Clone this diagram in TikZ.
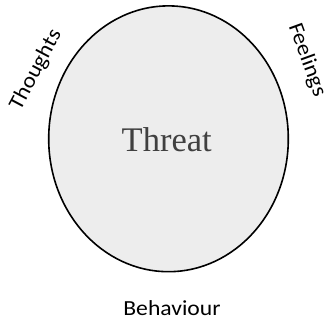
\documentclass[tikz,border=0pt]{standalone}
\usepackage{fontspec}
\setmainfont{Liberation Serif}
\newfontfamily\lblfont{Carlito}
\definecolor{fillgray}{HTML}{EDEDED}
\definecolor{txtgray}{HTML}{404040}
\begin{document}
\begin{tikzpicture}[x=1pt,y=1pt,
  lbl/.style={font=\lblfont\fontsize{21.5}{24}\selectfont, inner sep=0pt}]
\useasboundingbox (0,0) rectangle (327,320);
\path[fill=white] (0,0) rectangle (327,320);
\draw[draw=black, line width=1.6pt, fill=fillgray] (168.5,181.2) ellipse [x radius=119.8, y radius=132.9];
\node[anchor=base, inner sep=0pt, text=txtgray, font=\fontsize{34.5}{40}\selectfont] (threat) at (166.7,168.3) {Threat};
\node[lbl, rotate=62] (thoughts) at (36,250) {\scalebox{1.08}[1]{Thoughts}};
\node[lbl, rotate=-70] (feelings) at (307,260) {\scalebox{1.08}[1]{Feelings}};
\node[lbl, anchor=base] (behaviour) at (172,4) {\scalebox{1.1}[1]{Behaviour}};
\end{tikzpicture}
\end{document}
